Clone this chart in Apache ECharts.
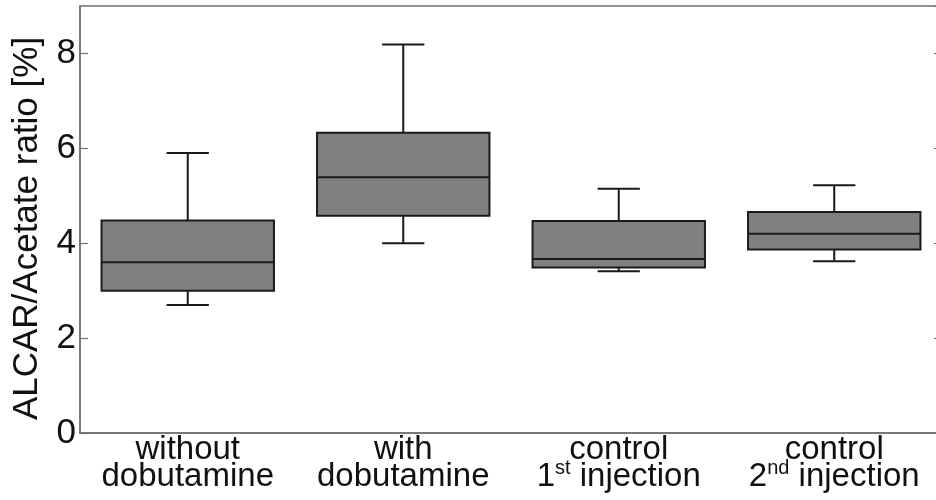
<!DOCTYPE html>
<html>
<head>
<meta charset="utf-8">
<script src="https://cdn.jsdelivr.net/npm/echarts@6/dist/echarts.min.js"></script>
<style>
  html, body { margin: 0; padding: 0; background: #ffffff; }
  #chart { width: 936px; height: 500px; }
</style>
</head>
<body>
<div id="chart"></div>
<script>
// Groups on the x axis (line breaks split the two-line labels)
const categories = ['without\ndobutamine', 'with\ndobutamine', 'control\n1st injection', 'control\n2nd injection'];
// Box plot statistics per group, ALCAR/Acetate ratio in %
const whiskerLow  = [2.70, 4.00, 3.41, 3.62];
const quartile1   = [3.00, 4.58, 3.49, 3.87];
const medians     = [3.60, 5.39, 3.67, 4.20];
const quartile3   = [4.48, 6.33, 4.47, 4.66];
const whiskerHigh = [5.90, 8.19, 5.15, 5.22];
// Value axis ticks
const yTicks = [0, 2, 4, 6, 8];

const FONT = 'Liberation Sans, Arial, Helvetica, sans-serif';
const INK = '#1a1a1a';
const FRAME = '#707070';

const boxData = categories.map((c, i) => [i, whiskerLow[i], quartile1[i], medians[i], quartile3[i], whiskerHigh[i]]);

function labelRich(v) {
  // "1st" / "2nd" -> digit plus raised ordinal suffix
  return v.split('\n').map(line =>
    line.replace(/(\d)(st|nd|rd|th)\b/, '{n|$1}{s|$2}')
  ).join('\n');
}

function renderBox(params, api) {
  const idx = api.value(0);
  const pLow = api.coord([idx, api.value(1)]);
  const pQ1 = api.coord([idx, api.value(2)]);
  const pMed = api.coord([idx, api.value(3)]);
  const pQ3 = api.coord([idx, api.value(4)]);
  const pHigh = api.coord([idx, api.value(5)]);
  const band = api.size([1, 0])[0];
  const cx = pMed[0];
  const half = band * 0.4;
  const capHalf = band * 0.098;
  const lineStyle = { stroke: INK, lineWidth: 2, fill: null };
  return {
    type: 'group',
    children: [
      { type: 'line', shape: { x1: cx, y1: pQ3[1], x2: cx, y2: pHigh[1] }, style: lineStyle },
      { type: 'line', shape: { x1: cx - capHalf, y1: pHigh[1], x2: cx + capHalf, y2: pHigh[1] }, style: lineStyle },
      { type: 'line', shape: { x1: cx, y1: pQ1[1], x2: cx, y2: pLow[1] }, style: lineStyle },
      { type: 'line', shape: { x1: cx - capHalf, y1: pLow[1], x2: cx + capHalf, y2: pLow[1] }, style: lineStyle },
      { type: 'rect', shape: { x: cx - half, y: pQ3[1], width: half * 2, height: pQ1[1] - pQ3[1] },
        style: { fill: '#808080', stroke: INK, lineWidth: 2 } },
      { type: 'line', shape: { x1: cx - half, y1: pMed[1], x2: cx + half, y2: pMed[1] }, style: lineStyle }
    ]
  };
}

const chart = echarts.init(document.getElementById('chart'), null, { renderer: 'canvas' });
chart.setOption({
  animation: false,
  backgroundColor: '#ffffff',
  grid: {
    left: 80, top: 6, width: 862, height: 427,
    outerBoundsMode: 'none',
    containLabel: false,
    show: true, borderColor: FRAME, borderWidth: 1.5, backgroundColor: 'transparent'
  },
  xAxis: {
    type: 'category',
    data: categories,
    boundaryGap: true,
    axisLine: { show: true, lineStyle: { color: FRAME, width: 1.5 } },
    axisTick: { show: false },
    splitLine: { show: false },
    axisLabel: {
      interval: 0,
      margin: 3,
      color: '#111111',
      fontFamily: FONT,
      fontSize: 33,
      lineHeight: 27,
      formatter: labelRich,
      rich: {
        n: { fontFamily: FONT, fontSize: 33, color: '#111111', lineHeight: 27 },
        s: { fontFamily: FONT, fontSize: 20, color: '#111111', verticalAlign: 'top', height: 10, lineHeight: 10 }
      }
    }
  },
  yAxis: [{
    type: 'value',
    min: yTicks[0], max: 9, interval: yTicks[1] - yTicks[0],
    name: 'ALCAR/Acetate ratio [%]',
    nameLocation: 'middle',
    nameGap: 35,
    nameTextStyle: { fontFamily: FONT, fontSize: 35, color: '#111111', padding: [0, 18, 0, 0] },
    axisLine: { show: true, lineStyle: { color: FRAME, width: 1.5 } },
    axisTick: { show: true, inside: true, length: 8, lineStyle: { color: FRAME, width: 1.2 } },
    splitLine: { show: false },
    axisLabel: {
      showMaxLabel: false,
      margin: 4,
      fontFamily: FONT, fontSize: 35, color: '#111111'
    }
  }, {
    type: 'value',
    position: 'right',
    min: yTicks[0], max: 9, interval: yTicks[1] - yTicks[0],
    axisLine: { show: true, lineStyle: { color: FRAME, width: 1.5 } },
    axisTick: { show: true, inside: true, length: 8, lineStyle: { color: FRAME, width: 1.2 } },
    axisLabel: { show: false },
    splitLine: { show: false }
  }],
  series: [{
    type: 'custom',
    renderItem: renderBox,
    encode: { x: 0, y: [1, 2, 3, 4, 5] },
    data: boxData,
    silent: true
  }]
});
</script>
</body>
</html>
